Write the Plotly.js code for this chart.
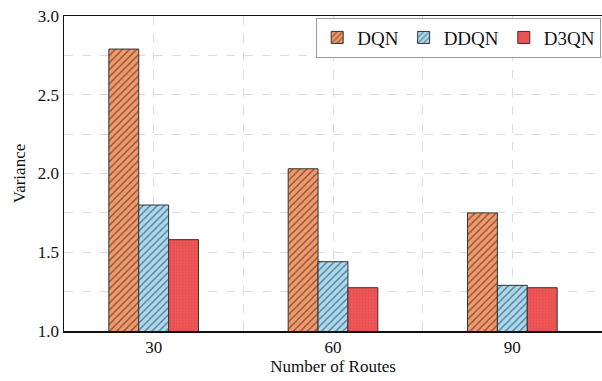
<!DOCTYPE html>
<html>
<head>
<meta charset="utf-8">
<script src="https://cdn.plot.ly/plotly-3.0.1.min.js"></script>
<style>html,body{margin:0;padding:0;background:#fff;}#chart{width:602px;height:381px;}</style>
</head>
<body>
<div id="chart"></div>
<script>
const categories = ['30', '60', '90'];
const dqn  = [2.79, 2.03, 1.75];
const ddqn = [1.80, 1.44, 1.29];
const d3qn = [1.58, 1.275, 1.275];
const seriesNames = ['DQN', 'DDQN', 'D3QN'];
const yTickVals = [1.0, 1.25, 1.5, 1.75, 2.0, 2.25, 2.5, 2.75, 3.0];
const yTickText = ['1.0', '', '1.5', '', '2.0', '', '2.5', '', '3.0'];

const xpos = categories.map((c, i) => i);
const font = "serif";

function bar(name, vals, color, pattern) {
  return {
    type: 'bar', name: name, x: xpos, y: vals,
    marker: { color: color, line: { color: '#333', width: 1 }, pattern: pattern },
    hoverinfo: 'skip'
  };
}

const traces = [
  bar(seriesNames[0], dqn, '#F29A6C', { shape: '/', fgcolor: '#2a1a12', bgcolor: '#F29A6C', size: 5, solidity: 0.3, fillmode: 'overlay' }),
  bar(seriesNames[1], ddqn, '#A9DAF2', { shape: '/', fgcolor: '#1f2c36', bgcolor: '#A9DAF2', size: 5, solidity: 0.3, fillmode: 'overlay' }),
  bar(seriesNames[2], d3qn, '#EE5555', { shape: '.', fgcolor: '#d84a4a', bgcolor: '#EE5555', size: 3, solidity: 0.3, fillmode: 'overlay' })
];

const layout = {
  width: 602, height: 381,
  margin: { l: 64, r: 0, t: 16, b: 50 },
  paper_bgcolor: '#fff', plot_bgcolor: '#fff',
  barmode: 'group', bargap: 0.5, bargroupgap: 0,
  font: { family: font, color: '#111', size: 16 },
  showlegend: true,
  legend: {
    orientation: 'h', x: 0.9985, xanchor: 'right', y: 0.995, yanchor: 'top',
    bgcolor: '#fff', bordercolor: '#999', borderwidth: 1,
    font: { family: font, size: 19, color: '#111' },
    itemwidth: 30, tracegroupgap: 0
  },
  xaxis: {
    range: [-0.5, 2.5],
    tickmode: 'array',
    tickvals: [-0.5, 0, 0.5, 1, 1.5, 2],
    ticktext: ['', categories[0], '', categories[1], '', categories[2]],
    showgrid: true, gridcolor: '#dcdcdc', griddash: 'dash', gridwidth: 1,
    zeroline: false,
    showline: true, linecolor: '#111', linewidth: 1.5, mirror: true,
    ticks: '', ticklen: 0,
    tickfont: { family: font, size: 17 },
    title: { text: 'Number of Routes', font: { family: font, size: 17 }, standoff: 4 }
  },
  yaxis: {
    range: [1.0, 3.0],
    tickmode: 'array', tickvals: yTickVals, ticktext: yTickText,
    showgrid: true, gridcolor: '#dcdcdc', griddash: 'dash', gridwidth: 1,
    zeroline: false,
    showline: true, linecolor: '#111', linewidth: 1.5,
    ticks: '', ticklen: 0,
    tickfont: { family: font, size: 17 },
    title: { text: 'Variance', font: { family: font, size: 17 }, standoff: 8 }
  }
};

Plotly.newPlot('chart', traces, layout, { displayModeBar: false, staticPlot: true });
</script>
</body>
</html>
